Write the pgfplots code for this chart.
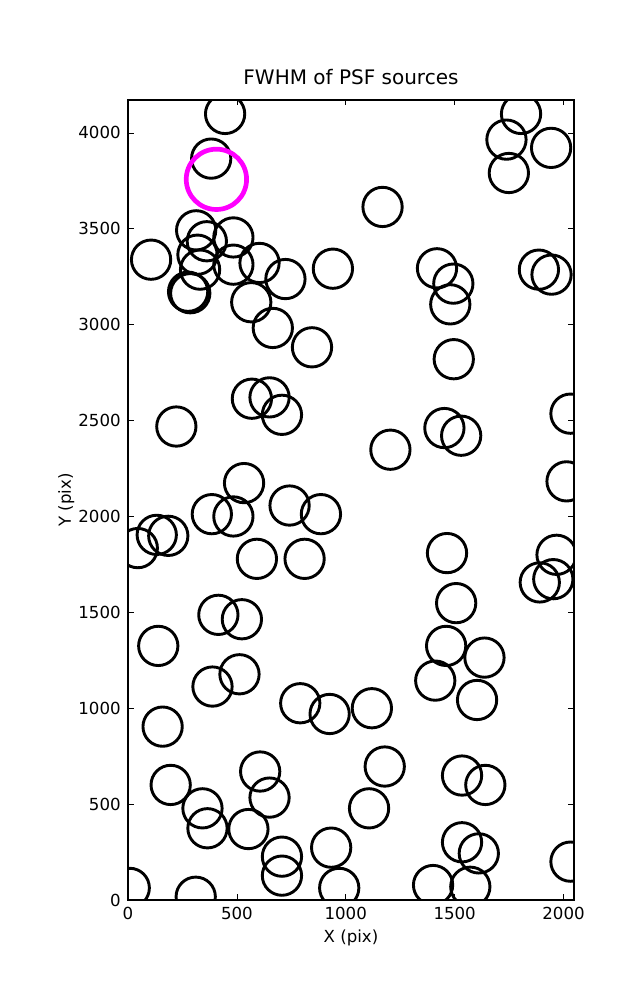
\documentclass[border=0pt]{standalone}
\usepackage{fontspec}
\setmainfont{DejaVu Sans}
\usepackage{pgfplots}
\pgfplotsset{compat=1.18}
\definecolor{mag}{RGB}{255,0,255}
\begin{document}
\begin{tikzpicture}
\path[use as bounding box] (0,0) rectangle (460.4pt,722.7pt);
\begin{axis}[
  at={(92.5pt,72.27pt)}, anchor=south west,
  scale only axis, width=322.3pt, height=578.2pt,
  xmin=0, xmax=2048, ymin=0, ymax=4172,
  xtick={0,500,1000,1500,2000},
  ytick={0,500,1000,1500,2000,2500,3000,3500,4000},
  tick align=inside,
  major tick length=4pt,
  every tick/.style={line width=0.5pt, black},
  axis line style={line width=1pt},
  /pgf/number format/assume math mode=true,
  /pgf/number format/1000 sep={},
  tick label style={font=\fontsize{12}{14}\selectfont},
  xticklabel style={anchor=base, inner sep=0pt, yshift=-13.95pt},
  yticklabel style={anchor=east, inner sep=0pt, xshift=-5.1pt},
  title={FWHM of PSF sources},
  title style={font=\fontsize{14.45}{17}\selectfont, at={(0.5,1)}, anchor=base, inner sep=0pt, yshift=4.85pt},
  xlabel={X (pix)},
  ylabel={Y (pix)},
  label style={font=\fontsize{12}{14}\selectfont},
  xlabel style={at={(axis description cs:0.5,0)}, anchor=base, inner sep=0pt, yshift=-30.9pt},
  ylabel style={at={(axis description cs:0,0.5)}, anchor=base, inner sep=0pt, yshift=41.2pt},
  clip marker paths=true,
]
\addplot[only marks, mark=o, mark size=14.2pt, mark options={line width=2.1pt, draw=black}] coordinates {
(446,4099) (382,3866) (313,3492) (362,3435) (484,3455) (106,3339) (319,3365)
(331,3287) (484,3313) (604,3322) (723,3238) (276,3172) (286,3164) (566,3117)
(665,2983) (845,2882) (941,3292) (1805,4099) (1738,3965) (1943,3922) (1749,3791)
(1169,3614) (1419,3294) (1494,3214) (1480,3106) (1887,3287) (1945,3261) (1496,2820)
(569,2614) (650,2621) (707,2530) (222,2469) (533,2174) (385,2012) (484,2000)
(742,2057) (886,2012) (132,1904) (185,1899) (45,1835) (592,1779) (811,1779)
(415,1487) (523,1464) (2032,2536) (1453,2461) (1530,2421) (1205,2348) (2014,2183)
(1465,1809) (1968,1800) (1891,1656) (1953,1673) (1507,1548) (139,1325) (388,1113)
(512,1177) (791,1026) (926,970) (159,904) (607,670) (650,534) (196,600)
(342,478) (365,374) (553,370) (707,226) (707,127) (933,273) (970,63)
(8,63) (311,17) (1461,1325) (1637,1264) (1411,1144) (1603,1043) (1120,1000)
(1179,696) (1107,478) (1534,649) (1641,600) (1534,301) (1611,243) (2032,200)
(1401,78) (1572,69)
};
\addplot[only marks, mark=o, mark size=21.8pt, mark options={line width=3.4pt, draw=mag}] coordinates {
(406,3758)
};
\end{axis}
\end{tikzpicture}
\end{document}
